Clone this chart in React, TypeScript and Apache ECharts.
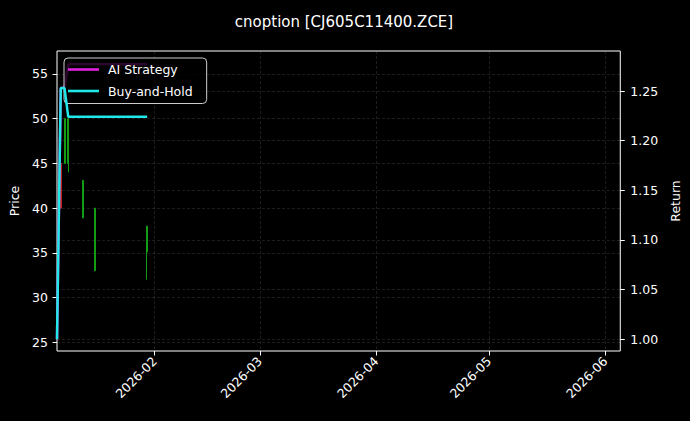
import React, { useEffect, useRef } from 'react';
import * as echarts from 'echarts';

// candles (price axis)
const candleDates = ['2026-01-07', '2026-01-08', '2026-01-09', '2026-01-13', '2026-01-16', '2026-01-30'];
const opens = [45.0, 45.0, 45.0, 38.9, 33.0, 35.1];
const closes = [40.0, 50.0, 50.0, 43.1, 40.0, 38.0];
const lows = [40.0, 45.0, 44.0, 38.9, 33.0, 32.0];
const highs = [45.0, 50.0, 50.0, 43.1, 40.0, 38.0];

// return curves (right axis)
const returnDates = ['2026-01-06', '2026-01-07', '2026-01-08', '2026-01-09', '2026-01-13', '2026-01-16', '2026-01-30'];
const aiStrategy = [1.0, 1.253, 1.253, 1.277, 1.277, 1.277, 1.277];
const buyAndHold = [1.0, 1.253, 1.253, 1.224, 1.224, 1.224, 1.224];

// tick labels
const monthTicks = ['2026-02', '2026-03', '2026-04', '2026-05', '2026-06'];
const priceTicks = [25, 30, 35, 40, 45, 50, 55];
const returnTicks = [1.0, 1.05, 1.1, 1.15, 1.2, 1.25];

const FONT = 'DejaVu Sans';
const GREEN = '#149c14';
const RED = '#c41c1c';
const MAGENTA = '#e020e0';
const CYAN = '#20e8e8';

// 'YYYY-MM' or 'YYYY-MM-DD' -> local timestamp
const ts = (s: string) => {
  const [y, m, d] = s.split('-').map(Number);
  return new Date(y, m - 1, d || 1).getTime();
};

const gridLine = {
  show: true,
  lineStyle: { color: 'rgba(255,255,255,0.22)', width: 0.5, type: [3, 2] },
};

const tick = { show: true, length: 4.5, inside: false, lineStyle: { color: '#fff', width: 1 } };

const App: React.FC = () => {
  const chartRef = useRef<HTMLDivElement>(null);

  useEffect(() => {
    if (!chartRef.current) return;
    const chart = echarts.init(chartRef.current, null, { renderer: 'svg' });

    const monthValues = monthTicks.map(ts);

    const options = {
      animation: false,
      backgroundColor: '#000',
      textStyle: { fontFamily: FONT },
      title: {
        text: 'cnoption [CJ605C11400.ZCE]',
        left: 339,
        textAlign: 'center',
        top: 9,
        textStyle: { color: '#fff', fontSize: 15, fontWeight: 'normal', fontFamily: FONT },
      },
      legend: {
        data: [
          { name: 'AI Strategy', icon: 'rect', itemStyle: { color: MAGENTA } },
          { name: 'Buy-and-Hold', icon: 'rect', itemStyle: { color: CYAN } },
        ],
        orient: 'vertical',
        left: 64,
        top: 58,
        padding: [4, 14, 5, 4],
        itemWidth: 31,
        itemHeight: 2.6,
        itemGap: 6.5,
        backgroundColor: 'rgba(0,0,0,0.8)',
        borderColor: '#cccccc',
        borderWidth: 1,
        borderRadius: 4,
        textStyle: {
          color: '#fff',
          fontSize: 12.5,
          fontFamily: FONT,
          lineHeight: 15,
          padding: [0, 0, 0, 4],
        },
      },
      grid: {
        left: 57,
        right: 69,
        top: 51,
        bottom: 70,
        show: true,
        borderColor: '#fff',
        borderWidth: 1,
        backgroundColor: 'transparent',
      },
      xAxis: {
        type: 'value',
        min: ts('2026-01-06'),
        max: ts('2026-06-05'),
        axisLine: { show: false },
        axisTick: { ...tick, customValues: monthValues },
        splitLine: gridLine,
        axisLabel: {
          customValues: monthValues,
          rotate: 45,
          margin: 8,
          color: '#fff',
          fontSize: 12.5,
          fontFamily: FONT,
          formatter: (v: number) => {
            const d = new Date(v);
            return `${d.getFullYear()}-${String(d.getMonth() + 1).padStart(2, '0')}`;
          },
        },
      },
      yAxis: [
        {
          type: 'value',
          position: 'left',
          min: 24.03,
          max: 57.57,
          name: 'Price',
          nameLocation: 'middle',
          nameGap: 32,
          nameTextStyle: { color: '#fff', fontSize: 12.5, fontFamily: FONT },
          axisLine: { show: false },
          axisTick: { ...tick, customValues: priceTicks },
          splitLine: gridLine,
          axisLabel: {
            customValues: priceTicks,
            margin: 9,
            color: '#fff',
            fontSize: 12.5,
            fontFamily: FONT,
          },
        },
        {
          type: 'value',
          position: 'right',
          min: 0.9882,
          max: 1.2903,
          name: 'Return',
          nameLocation: 'middle',
          nameGap: 42,
          nameTextStyle: { color: '#fff', fontSize: 12.5, fontFamily: FONT },
          axisLine: { show: false },
          axisTick: { ...tick, customValues: returnTicks },
          splitLine: gridLine,
          axisLabel: {
            customValues: returnTicks,
            margin: 10,
            color: '#fff',
            fontSize: 12.5,
            fontFamily: FONT,
            formatter: (v: number) => v.toFixed(2),
          },
        },
      ],
      series: [
        {
          name: 'Price',
          type: 'candlestick',
          yAxisIndex: 0,
          barWidth: 1.5,
          encode: { x: 0, y: [1, 2, 3, 4] },
          data: candleDates.map((d, i) => [ts(d), opens[i], closes[i], lows[i], highs[i]]),
          itemStyle: {
            color: GREEN,
            color0: RED,
            borderColor: GREEN,
            borderColor0: RED,
            borderWidth: 1,
          },
          z: 2,
        },
        {
          name: 'AI Strategy',
          type: 'line',
          yAxisIndex: 1,
          symbol: 'none',
          data: returnDates.map((d, i) => [ts(d), aiStrategy[i]]),
          lineStyle: { color: MAGENTA, width: 2.5 },
          itemStyle: { color: MAGENTA },
          z: 3,
        },
        {
          name: 'Buy-and-Hold',
          type: 'line',
          yAxisIndex: 1,
          symbol: 'none',
          data: returnDates.map((d, i) => [ts(d), buyAndHold[i]]),
          lineStyle: { color: CYAN, width: 2.5 },
          itemStyle: { color: CYAN },
          z: 4,
        },
      ],
    };

    chart.setOption(options);

    return () => {
      chart.dispose();
    };
  }, []);

  return (
    <div
      ref={chartRef}
      style={{ position: 'absolute', left: 0, top: 0, width: '690px', height: '421px' }}
    />
  );
};

export default App;
